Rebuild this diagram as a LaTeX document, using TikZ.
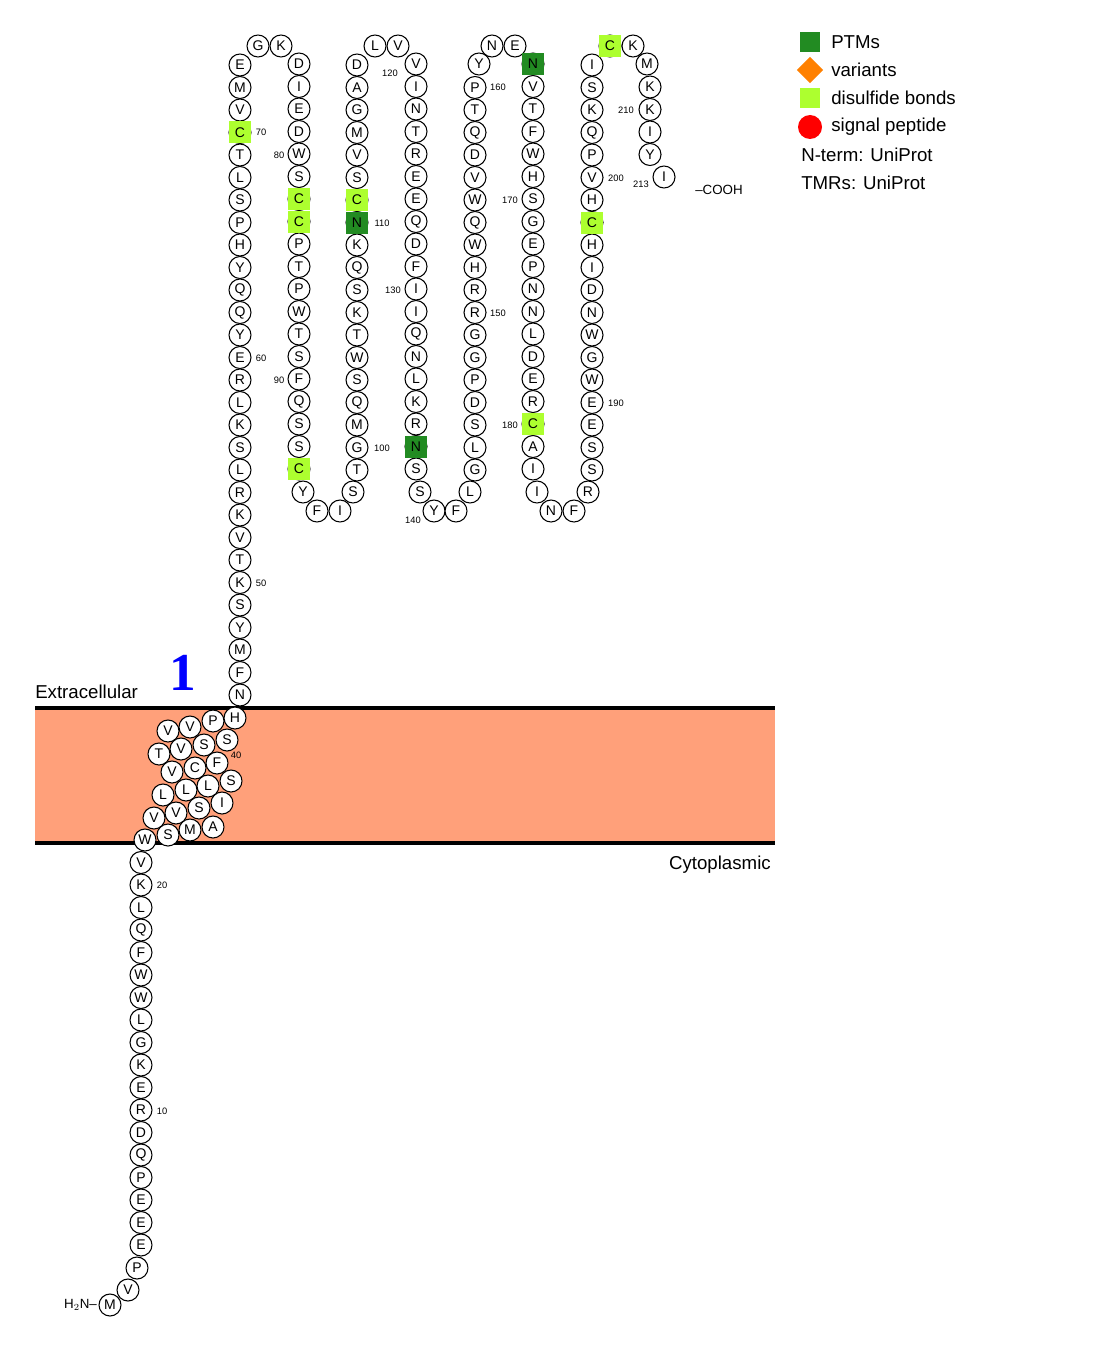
\documentclass[tikz,border=0pt]{standalone}
\usepackage{fontspec}
\setmainfont{Liberation Sans}
\newfontfamily\numfont{Liberation Serif}
\usetikzlibrary{shapes.geometric}
\definecolor{ptm}{HTML}{228B22}
\definecolor{disulf}{HTML}{ADFF2F}
\definecolor{membr}{HTML}{FFA07A}
\tikzset{
  res/.style={circle, draw, thick, fill=white, minimum size=16.5pt, inner sep=0pt, font=\fontsize{10.5}{10.5}\selectfont},
  dis/.style={rectangle, fill=disulf, minimum size=16.5pt, inner sep=0pt, font=\fontsize{10.5}{10.5}\selectfont},
  glyc/.style={dis, fill=ptm},
  num/.style={font=\fontsize{7}{7}\selectfont, inner sep=0pt},
  legend/.style={anchor=west, font=\fontsize{14}{14}\selectfont, inner sep=0pt}
}
\begin{document}
\begin{tikzpicture}[x=0.75pt,y=-0.75pt]
\useasboundingbox (0,0) rectangle (1106,1352);
% membrane
\fill[membr] (35,708) rectangle (775,843);
\draw[line width=2.8pt] (35,708) -- (775,708);
\draw[line width=2.8pt] (35,843) -- (775,843);
\node[anchor=south west, font=\fontsize{14}{14}\selectfont, inner sep=0pt] (extra) at (35,699) {Extracellular};
\node[anchor=north east, font=\fontsize{14}{14}\selectfont, inner sep=0pt] (cyto) at (771,856) {Cytoplasmic};
\node[text=blue, font=\fontsize{40}{40}\selectfont\bfseries\numfont, inner sep=0pt] (tm1) at (183,673) {1};

% N-terminal tail
\node[res] (r1) at (110,1305) {M};
\node[res] (r2) at (128,1290) {V};
\node[res] (r3) at (137,1268) {P};
\foreach \l [count=\n from 4] in {E,E,E,P,Q,D,R,E,K,G,L,W,W,F,Q,L,K,V}
  \node[res] (r\n) at (141,1245-22.5*\n+90) {\l};
\node[anchor=east, font=\fontsize{10}{10}\selectfont, inner sep=1pt] (nterm) at (r1.west) {H$_2$N--};

% helix
\foreach \x/\y/\l [count=\n from 22] in {145/840/W,168/835/S,190/830/M,213/827/A,222/803/I,199/808/S,
  176/813/V,154/818/V,163/795/L,186/790/L,208/786/L,231/781/S,217/763/F,195/768/C,172/772/V,
  159/754/T,181/749/V,204/745/S,227/740/S,168/731/V,190/727/V,213/721/P,235/718/H}
  \node[res] (r\n) at (\x,\y) {\l};

% extracellular part
\foreach \l [count=\n from 45] in {N,F,M,Y,S,K,T,V,K,R,L,S,K,L,R,E,Y,Q,Q,Y,H,P,S,L,T,C,V,M,E}
  \node[res] (r\n) at (240,695-22.5*\n+22.5*45) {\l};
\node[res] (r74) at (258,46) {G};
\node[res] (r75) at (281,46) {K};
\foreach \l [count=\n from 76] in {D,I,E,D,W,S,C,C,P,T,P,W,T,S,F,Q,S,S,C}
  \node[res] (r\n) at (299,64+22.5*\n-22.5*76) {\l};
\node[res] (r95) at (303,492) {Y};
\node[res] (r96) at (317,511) {F};
\node[res] (r97) at (340,511) {I};
\node[res] (r98) at (353,492) {S};
\foreach \l [count=\n from 99] in {T,G,M,Q,S,W,T,K,S,Q,K,N,C,S,V,M,G,A,D}
  \node[res] (r\n) at (357,470-22.5*\n+22.5*99) {\l};
\node[res] (r118) at (375,46) {L};
\node[res] (r119) at (398,46) {V};
\foreach \l [count=\n from 120] in {V,I,N,T,R,E,E,Q,D,F,I,I,Q,N,L,K,R,N,S}
  \node[res] (r\n) at (416,64+22.5*\n-22.5*120) {\l};
\node[res] (r139) at (420,492) {S};
\node[res] (r140) at (434,511) {Y};
\node[res] (r141) at (456,511) {F};
\node[res] (r142) at (470,492) {L};
\foreach \l [count=\n from 143] in {G,L,S,D,P,G,G,R,R,H,W,Q,W,V,D,Q,T,P}
  \node[res] (r\n) at (475,470-22.5*\n+22.5*143) {\l};
\node[res] (r161) at (479,64) {Y};
\node[res] (r162) at (492,46) {N};
\node[res] (r163) at (515,46) {E};
\foreach \l [count=\n from 164] in {N,V,T,F,W,H,S,G,E,P,N,N,L,D,E,R,C,A,I}
  \node[res] (r\n) at (533,64+22.5*\n-22.5*164) {\l};
\node[res] (r183) at (537,492) {I};
\node[res] (r184) at (551,511) {N};
\node[res] (r185) at (574,511) {F};
\node[res] (r186) at (588,492) {R};
\foreach \l [count=\n from 187] in {S,S,E,E,W,G,W,N,D,I,H,C,H,V,P,Q,K,S,I}
  \node[res] (r\n) at (592,470-22.5*\n+22.5*187) {\l};
\node[res] (r206) at (610,46) {C};
\node[res] (r207) at (633,46) {K};
\node[res] (r208) at (647,64) {M};
\foreach \l [count=\n from 209] in {K,K,I,Y}
  \node[res] (r\n) at (650,87+22.5*\n-22.5*209) {\l};
\node[res] (r213) at (664,177) {I};
\node[font=\fontsize{10}{10}\selectfont, anchor=west, inner sep=0pt] (cterm) at (695,190) {--COOH};

% highlighted residues
\foreach \n in {70,82,83,94,111,180,198,206}
  \node[dis] at (r\n) {C};
\foreach \n in {110,137,164}
  \node[glyc] at (r\n) {N};

% numbering
\foreach \x/\y/\t in {162/1111/10,162/885/20,236/755/40,261/583/50,261/358/60,261/132/70,
  279/155/80,279/380/90,382/448/100,382/223/110,390/73/120,393/290/130,413/520/140,
  498/313/150,498/87/160,510/200/170,510/425/180,616/403/190,616/178/200,626/110/210,641/184/213}
  \node[num] at (\x,\y) {\t};

% legend
\node[rectangle, fill=ptm, minimum size=15pt, inner sep=0pt] (l1) at (810,42) {};
\node[diamond, fill=orange, minimum size=20pt, inner sep=0pt] (l2) at (810,70) {};
\node[rectangle, fill=disulf, minimum size=15pt, inner sep=0pt] (l3) at (810,98) {};
\node[circle, fill=red, minimum size=18pt, inner sep=0pt] (l4) at (810,127) {};
\node[legend] at (831,42) {PTMs};
\node[legend] at (831,70) {variants};
\node[legend] at (831,98) {disulfide bonds};
\node[legend] at (831,127) {signal peptide};
\node[legend] at (801,155) {N-term: UniProt};
\node[legend] at (801,183) {TMRs: UniProt};
\end{tikzpicture}
\end{document}
